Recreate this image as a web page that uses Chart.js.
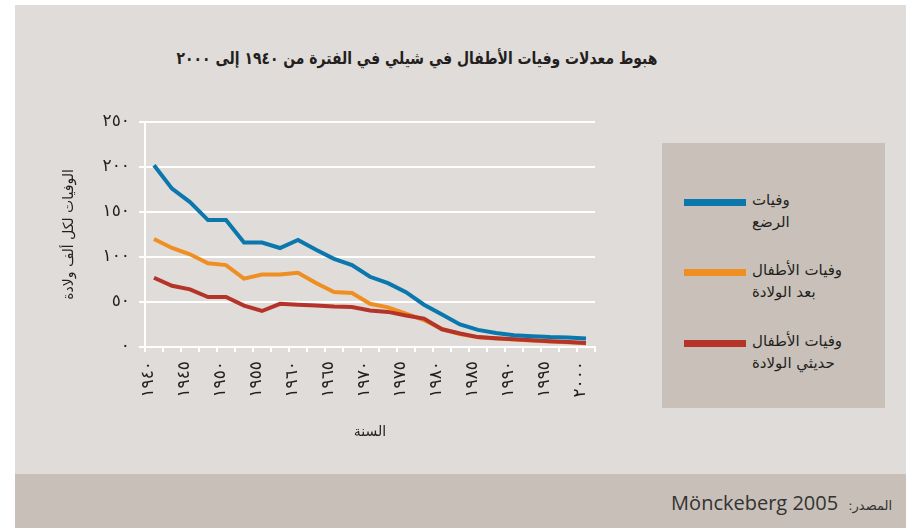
<!DOCTYPE html>
<html lang="ar">
<head>
<meta charset="utf-8">
<script src="https://cdn.jsdelivr.net/npm/chart.js@4.4.1/dist/chart.umd.min.js"></script>
<style>
  body { margin: 0; width: 906px; height: 528px; background: #fff; position: relative; overflow: hidden;
         font-family: "DejaVu Sans", sans-serif; color: #231f20; }
  #panel { position: absolute; left: 15px; top: 5px; width: 891px; height: 469px; background: #e0dcd9; }
  #footer { position: absolute; left: 15px; top: 474px; width: 891px; height: 54px; background: #c8c0b8; }
  #title { position: absolute; left: 67px; width: 700px; top: 48px; text-align: center; white-space: nowrap;
           font-weight: bold; font-size: 17px; direction: rtl; transform: scaleX(0.82); transform-origin: 50% 50%; }
  #wrap { position: absolute; left: 15px; top: 90px; width: 640px; height: 370px; }
  #legend { position: absolute; left: 662px; top: 143px; width: 223px; height: 265px; background: #c9c1b9; }
  .sw { position: absolute; left: 22px; width: 62px; height: 7px; }
  .lt { position: absolute; left: 90px; font-size: 15px; line-height: 22px; direction: rtl; text-align: left;
        white-space: nowrap; }
  #src { position: absolute; right: 14px; top: 489px; direction: rtl; color: #333; white-space: nowrap; }
  #src .a { font-size: 13px; margin-left: 10px; }
  #src .b { font-family: "Open Sans", sans-serif; font-size: 20px; }
</style>
</head>
<body>
<div id="panel"></div>
<div id="footer"></div>
<div id="title">هبوط معدلات وفيات الأطفال في شيلي في الفترة من ١٩٤٠ إلى ٢٠٠٠</div>
<div id="wrap"><canvas id="chart" width="640" height="370"></canvas></div>
<div id="legend">
  <div class="sw" style="top:56px;background:#0a77ad"></div>
  <div class="lt" style="top:46px;width:60px">وفيات<br>الرضع</div>
  <div class="sw" style="top:126px;background:#ef8f22"></div>
  <div class="lt" style="top:116px">وفيات الأطفال<br>بعد الولادة</div>
  <div class="sw" style="top:197px;background:#b5342a"></div>
  <div class="lt" style="top:187px">وفيات الأطفال<br>حديثي الولادة</div>
</div>
<div id="src"><span class="a">المصدر:</span><span class="b">Mönckeberg 2005</span></div>

<script>
// years on the x axis (every 2.5 years), labels shown every 5 years
const years = [1940, 1942.5, 1945, 1947.5, 1950, 1952.5, 1955, 1957.5, 1960, 1962.5, 1965, 1967.5,
               1970, 1972.5, 1975, 1977.5, 1980, 1982.5, 1985, 1987.5, 1990, 1992.5, 1995, 1997.5, 2000];

// deaths per 1000 births
const infant = [202, 176, 161, 141, 141, 116, 116, 110, 119, 108, 98, 91,
                78, 71, 61, 47, 36, 25, 19, 15.5, 13, 12, 11, 10.5, 9.5];
const postNeonatal = [120, 110, 103, 93, 91, 76, 80.5, 80.5, 82.5, 71, 61, 60,
                      48, 44, 37, 30, 20, 14.5, 10.8, 9.4, 8.4, 7.2, 6.1, 5.4, 4.3];
const neonatal = [77, 68, 64, 55.5, 55.5, 46, 40, 48, 47, 46, 45, 44.5,
                  40.5, 39, 35, 31.5, 19.7, 15, 11, 9.7, 8.6, 7.4, 6.3, 5.6, 4.5];

const yTicks = [0, 50, 100, 150, 200, 250];

const arabicDigits = ["٠", "١", "٢", "٣", "٤", "٥", "٦", "٧", "٨", "٩"];
function toArabic(n) {
    return String(n).split("").map(d => arabicDigits[+d] ?? d).join("");
}

const ctx = document.getElementById("chart").getContext("2d");
const textColor = "#231f20";

new Chart(ctx, {
    type: "line",
    data: {
        labels: years,
        datasets: [
            { label: "وفيات الرضع", data: infant, borderColor: "#0a77ad", order: 0 },
            { label: "وفيات الأطفال بعد الولادة", data: postNeonatal, borderColor: "#ef8f22", order: 2 },
            { label: "وفيات الأطفال حديثي الولادة", data: neonatal, borderColor: "#b5342a", order: 1 }
        ].map(d => Object.assign(d, { borderWidth: 4, pointRadius: 0, tension: 0, fill: false,
                                      borderJoinStyle: "miter", borderCapStyle: "butt" }))
    },
    options: {
        responsive: false,
        devicePixelRatio: 1,
        animation: false,
        layout: { padding: { top: 32, right: 60, left: 0, bottom: 0 } },
        plugins: { legend: { display: false }, tooltip: { enabled: false } },
        scales: {
            x: {
                type: "category",
                offset: true,
                grid: { offset: true, drawOnChartArea: false, drawTicks: true, tickLength: 5,
                        color: "#ffffff", lineWidth: 2 },
                border: { color: "#ffffff", width: 2 },
                ticks: {
                    autoSkip: false, minRotation: 90, maxRotation: 90, padding: 9, labelOffset: -5,
                    color: textColor, font: { family: "DejaVu Sans", size: 17 },
                    callback: (v, i) => years[i] % 5 === 0 ? toArabic(years[i]) : ""
                },
                title: { display: true, text: "السنة", color: textColor,
                         font: { family: "DejaVu Sans", size: 14 }, padding: { top: 0, bottom: 19 } },
                afterFit: s => { s.height = 113; }
            },
            y: {
                min: 0, max: 250,
                afterBuildTicks: s => { s.ticks = yTicks.map(v => ({ value: v })); },
                grid: { color: "#ffffff", lineWidth: 2, tickLength: 6 },
                border: { color: "#ffffff", width: 2 },
                ticks: { padding: 9, color: textColor, font: { family: "DejaVu Sans", size: 17 },
                         callback: v => toArabic(v) },
                title: { display: true, text: "الوفيات لكل ألف ولادة", color: textColor,
                         font: { family: "DejaVu Sans", size: 14 }, padding: { top: 46, bottom: 0 } },
                afterFit: s => { s.width = 130; }
            }
        }
    }
});
</script>
</body>
</html>
